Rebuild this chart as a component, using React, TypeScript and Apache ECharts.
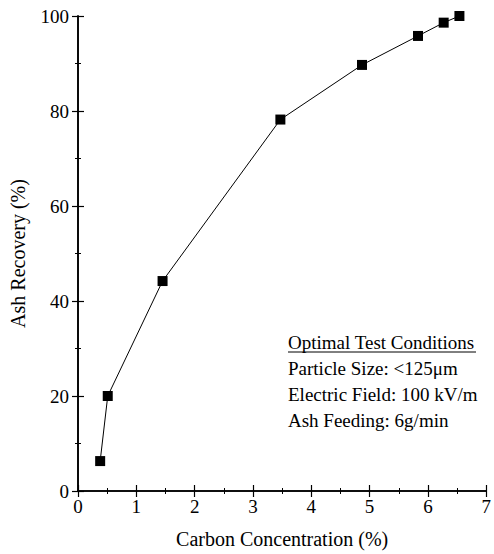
import React, { useEffect, useRef } from "react";
import * as echarts from "echarts";

const carbon = [0.38, 0.51, 1.45, 3.47, 4.87, 5.83, 6.27, 6.54];
const recovery = [6.3, 20, 44.2, 78.2, 89.7, 95.8, 98.6, 100];
const conditions = [
  "Optimal Test Conditions",
  "Particle Size: <125μm",
  "Electric Field: 100 kV/m",
  "Ash Feeding: 6g/min",
];

const FONT = "Liberation Serif, Times New Roman, serif";

export default function App() {
  const ref = useRef<HTMLDivElement>(null);
  useEffect(() => {
    document.body.style.margin = "0";
    const chart = echarts.init(ref.current!, null, { renderer: "svg" });
    const axisCommon = {
      axisLine: { show: true, lineStyle: { color: "#000", width: 1.6 } },
      axisTick: { show: true, inside: true, length: 6, lineStyle: { color: "#000", width: 1.2 } },
      minorTick: { show: true, splitNumber: 2, length: 3, lineStyle: { color: "#000", width: 1 } },
      splitLine: { show: false },
    };
    const textEls: any[] = conditions.map((t, i) => ({
      type: "text",
      left: 288,
      top: 333 + i * 26,
      style: { text: t, font: `19px ${FONT}`, fill: "#000" },
    }));
    textEls.push({
      type: "line",
      shape: { x1: 288, y1: 352, x2: 476, y2: 352 },
      style: { stroke: "#000", lineWidth: 1 },
    });
    chart.setOption({
      animation: false,
      backgroundColor: "#fff",
      grid: { left: 77, right: 4, top: 16, bottom: 62 },
      xAxis: [
        {
          type: "value",
          min: 0,
          max: 7,
          interval: 1,
          name: "Carbon Concentration (%)",
          nameLocation: "middle",
          nameGap: 38,
          nameTextStyle: { fontFamily: FONT, fontSize: 20, color: "#000" },
          axisLabel: { fontFamily: FONT, fontSize: 19, color: "#000", margin: 6 },
          ...axisCommon,
        },
        {
          type: "value",
          position: "top",
          min: 0,
          max: 7,
          interval: 1,
          axisLabel: { show: false },
          ...axisCommon,
        },
      ],
      yAxis: [
        {
          type: "value",
          min: 0,
          max: 100,
          interval: 20,
          name: "Ash Recovery (%)",
          nameLocation: "middle",
          nameGap: 50,
          nameTextStyle: { fontFamily: FONT, fontSize: 20, color: "#000" },
          axisLabel: { fontFamily: FONT, fontSize: 19, color: "#000", margin: 9 },
          ...axisCommon,
        },
        {
          type: "value",
          position: "right",
          min: 0,
          max: 100,
          interval: 20,
          axisLabel: { show: false },
          ...axisCommon,
        },
      ],
      series: [
        {
          type: "line",
          data: carbon.map((c, i) => [c, recovery[i]]),
          symbol: "rect",
          symbolSize: 10,
          itemStyle: { color: "#000" },
          lineStyle: { color: "#000", width: 1 },
        },
      ],
      graphic: textEls,
    });
    return () => chart.dispose();
  }, []);
  return <div ref={ref} style={{ width: 494, height: 554 }} />;
}
